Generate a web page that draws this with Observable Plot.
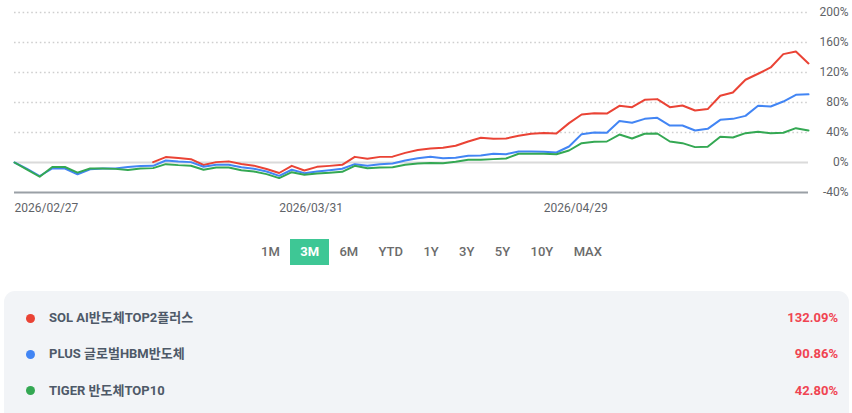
<!DOCTYPE html>
<html>
<head>
<meta charset="utf-8">
<script src="https://cdn.jsdelivr.net/npm/d3@7"></script>
<script src="https://cdn.jsdelivr.net/npm/@observablehq/plot@0.6"></script>
<style>
  html, body { margin: 0; padding: 0; background: #fff; width: 852px; height: 413px; overflow: hidden; }
  body { font-family: Roboto, "Noto Sans CJK KR", sans-serif; position: relative; }
  #chart svg { display: block; }
  #periods { position: absolute; top: 239px; left: 0; width: 852px; box-sizing: border-box; padding-left: 11px; display: flex; justify-content: center; }
  #periods span { display: inline-block; height: 26px; line-height: 26px; padding: 0 10.2px; font-size: 13px; font-weight: 500; color: #6b6b6b; }
  #periods span.active { background: #3ec795; color: #fff; font-weight: 700; }
  #legend { position: absolute; top: 291px; left: 4px; width: 845px; height: 140px; background: #f2f4f7; border-radius: 11px; }
  .row { position: absolute; left: 0; right: 0; height: 20px; line-height: 20px; font-size: 13px; font-weight: 700; }
  .row .dot { position: absolute; left: 22px; top: 5.5px; width: 9px; height: 9px; border-radius: 50%; }
  .row .name { position: absolute; left: 45px; color: #4e5968; }
  .row .val { position: absolute; right: 11px; color: #f04452; }
</style>
</head>
<body>
<div id="chart"></div>
<div id="periods"></div>
<div id="legend"></div>
<script>
// ---- data (cumulative return %, trading-day index 0..63) ----
const seriesNames = ["SOL AI반도체TOP2플러스", "PLUS 글로벌HBM반도체", "TIGER 반도체TOP10"];
const seriesColors = ["#ea4335", "#4285f4", "#34a853"];
const finalReturns = ["132.09%", "90.86%", "42.80%"];

const solValues = [
  null, null, null, null, null, null, null, null, null, null, null,
  0.5, 7.2, 5.9, 4.4, -3.3, 0.5, 1.5, -2.0, -4.2, -8.6,
  -14.0, -4.5, -10.7, -5.8, -4.5, -3.1, 7.5, 4.9, 7.5, 7.8,
  12.8, 16.7, 18.7, 19.6, 22.3, 28.0, 33.0, 31.6, 32.0, 35.6,
  38.3, 39.2, 38.7, 52.5, 64.0, 65.8, 65.3, 75.6, 73.8, 83.6,
  84.5, 73.8, 76.0, 69.3, 71.2, 89.0, 93.3, 110.3, 118.3, 126.7,
  144.5, 148.0, 132.09
];
const plusValues = [
  0, -8.5, -18.0, -8.0, -8.0, -15.7, -9.0, -8.0, -8.0, -6.0, -4.7,
  -4.4, 2.7, 1.3, 0.5, -5.7, -3.0, -3.0, -6.2, -8.4, -12.0,
  -17.8, -9.7, -14.2, -12.0, -10.2, -8.4, -2.2, -4.4, -2.2, -1.3,
  2.7, 5.8, 7.8, 5.8, 6.2, 8.9, 9.3, 11.6, 11.1, 14.7,
  14.7, 14.2, 13.3, 21.3, 37.8, 40.0, 39.6, 55.2, 52.9, 58.2,
  59.6, 49.3, 49.3, 42.7, 44.9, 56.9, 58.2, 62.2, 75.6, 74.7,
  81.3, 90.3, 90.86
];
const tigerValues = [
  0, -9.5, -19.0, -6.0, -6.0, -13.5, -8.0, -8.0, -8.5, -10.0, -8.0,
  -7.5, -2.2, -3.5, -4.4, -9.7, -6.6, -6.6, -10.2, -12.0, -15.5,
  -20.8, -12.9, -16.4, -14.6, -13.8, -12.4, -4.4, -7.6, -6.6, -6.2,
  -3.1, -1.3, -0.6, -0.9, 0.9, 3.6, 3.6, 4.5, 5.3, 11.6,
  11.6, 11.6, 11.1, 16.0, 25.8, 27.6, 28.0, 37.3, 32.0, 38.3,
  38.7, 28.0, 25.8, 20.5, 20.9, 34.3, 33.3, 39.1, 40.9, 39.1,
  39.6, 45.8, 42.8
];

const xTickIndex = [0, 21, 42];
const xTickLabels = ["2026/02/27", "2026/03/31", "2026/04/29"];
const yTicks = [-40, 0, 40, 80, 120, 160, 200];
const gridTicks = [40, 80, 120, 160, 200];
const periods = ["1M", "3M", "6M", "YTD", "1Y", "3Y", "5Y", "10Y", "MAX"];
const activePeriod = "3M";

// ---- build tidy rows ----
const allSeries = [solValues, plusValues, tigerValues];
const rows = [];
allSeries.forEach((vals, s) => vals.forEach((v, i) => rows.push({i, v, s: seriesNames[s]})));

const chart = Plot.plot({
  width: 852,
  height: 222,
  marginLeft: 14,
  marginRight: 44,
  marginTop: 12,
  marginBottom: 30,
  style: {fontFamily: "Roboto, sans-serif", fontSize: "12px", color: "#5f6368", background: "transparent"},
  x: {domain: [0, solValues.length - 1], axis: null},
  y: {domain: [-40, 200], axis: null},
  color: {domain: seriesNames, range: seriesColors},
  marks: [
    Plot.ruleY(gridTicks, {stroke: "#cfcfcf", strokeWidth: 1.3, strokeDasharray: "1.6,2.7"}),
    Plot.ruleY([0], {stroke: "#dadada", strokeWidth: 2}),
    Plot.ruleY([-40], {stroke: "#9aa0a6", strokeWidth: 2}),
    Plot.line(rows, {x: "i", y: "v", z: "s", stroke: "s", strokeWidth: 2, curve: "linear"}),
    Plot.axisY({anchor: "right", label: null, ticks: yTicks, tickFormat: d => d + "%", tickSize: 0, tickPadding: 40, textAnchor: "end"}),
    Plot.axisX({label: null, ticks: xTickIndex, tickFormat: d => xTickLabels[xTickIndex.indexOf(d)], tickSize: 0, tickPadding: 11, textAnchor: "start"})
  ]
});
document.getElementById("chart").appendChild(chart);

// ---- period buttons ----
const pDiv = document.getElementById("periods");
periods.forEach(p => {
  const s = document.createElement("span");
  s.textContent = p;
  if (p === activePeriod) s.className = "active";
  pDiv.appendChild(s);
});

// ---- legend ----
const lg = document.getElementById("legend");
seriesNames.forEach((n, k) => {
  const r = document.createElement("div");
  r.className = "row";
  r.style.top = (17 + k * 36.3) + "px";
  r.innerHTML = `<span class="dot" style="background:${seriesColors[k]}"></span><span class="name">${n}</span><span class="val">${finalReturns[k]}</span>`;
  lg.appendChild(r);
});
</script>
</body>
</html>
